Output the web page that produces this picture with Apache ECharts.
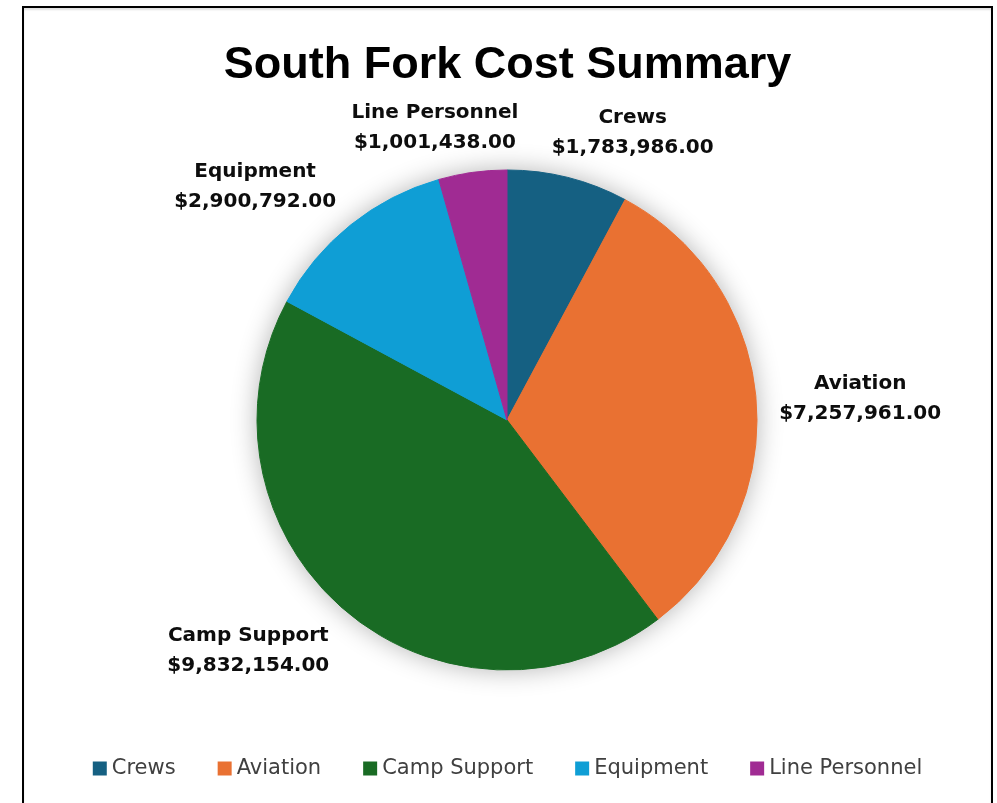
<!DOCTYPE html>
<html>
<head>
<meta charset="utf-8">
<script src="https://cdn.jsdelivr.net/npm/echarts@6/dist/echarts.min.js"></script>
<style>
    html, body { margin: 0; padding: 0; background: #fff; }
    #frame { position: absolute; left: 22px; top: 6px; width: 971px; height: 820px; border: 2px solid #000; box-sizing: border-box; box-shadow: inset 0 2px 2px rgba(0,0,0,0.12); }
    #chart { position: absolute; left: 24px; top: 0; width: 967px; height: 803px; }
</style>
</head>
<body>
<div id="chart"></div>
<div id="frame"></div>
<script>
const categories = ['Crews', 'Aviation', 'Camp Support', 'Equipment', 'Line Personnel'];
const costs = [1783986, 7257961, 9832154, 2900792, 1001438];
const colors = ['#156082', '#E97132', '#196B24', '#0F9ED5', '#A02B93'];

const pieCenter = [483, 420], pieRadius = 250, labelRadius = 273;

const money = function (v) {
    return '$' + v.toLocaleString('en-US', { minimumFractionDigits: 2, maximumFractionDigits: 2 });
};
const clamp = function (v) {
    return Math.max(-1, Math.min(1, v));
};
var total = costs.reduce(function (a, b) { return a + b; }, 0);

// place labels like excel "outside end": box pushed out along the slice's mid angle
const placeLabel = function (p) {
    var before = 0;
    for (var i = 0; i < p.dataIndex; i++) before += costs[i];
    var a = (before + costs[p.dataIndex] / 2) / total * Math.PI * 2;
    var ux = Math.sin(a), uy = -Math.cos(a);
    var w = p.labelRect.width, h = p.labelRect.height;
    return {
        x: pieCenter[0] + labelRadius * ux + clamp(3 * ux) * w / 2,
        y: pieCenter[1] + labelRadius * uy + clamp(1.2 * uy) * 0.8 * h / 2 + 2,
        align: 'center',
        verticalAlign: 'middle'
    };
};

var labelFont = { fontFamily: 'DejaVu Sans', fontWeight: 'bold', fontSize: 20, lineHeight: 30, color: '#0d0d0d' };

var chart = echarts.init(document.getElementById('chart'));
chart.setOption({
    animation: false,
    title: {
        text: 'South Fork Cost Summary',
        left: 'center',
        top: 38,
        textStyle: { fontFamily: 'Liberation Sans', fontWeight: 'bold', fontSize: 45, color: '#000' }
    },
    legend: {
        bottom: 19,
        left: 'center',
        icon: 'rect',
        itemWidth: 14,
        itemHeight: 14,
        itemGap: 42,
        itemStyle: { borderWidth: 0 },
        textStyle: { fontFamily: 'DejaVu Sans', fontSize: 21, color: '#404040' },
        data: categories
    },
    series: [{
        // soft shadow behind the whole pie only
        type: 'pie',
        silent: true,
        z: 1,
        center: pieCenter,
        radius: pieRadius,
        label: { show: false },
        labelLine: { show: false },
        emphasis: { disabled: true },
        itemStyle: { color: '#fff', shadowBlur: 26, shadowColor: 'rgba(0,0,0,0.3)' },
        data: [{ name: 'bg', value: 1 }]
    }, {
        type: 'pie',
        z: 2,
        center: pieCenter,
        radius: pieRadius,
        startAngle: 90,
        clockwise: true,
        label: Object.assign({
            show: true,
            position: 'outside',
            formatter: function (p) { return '{n|' + p.name + '}\n{v|' + money(p.value) + '}'; },
            rich: {
                n: Object.assign({ align: 'center' }, labelFont),
                v: Object.assign({ align: 'center' }, labelFont)
            }
        }, labelFont),
        labelLine: { show: false },
        labelLayout: placeLabel,
        data: categories.map(function (c, i) {
            return { name: c, value: costs[i], itemStyle: { color: colors[i], borderColor: colors[i], borderWidth: 1 } };
        })
    }]
});
</script>
</body>
</html>
